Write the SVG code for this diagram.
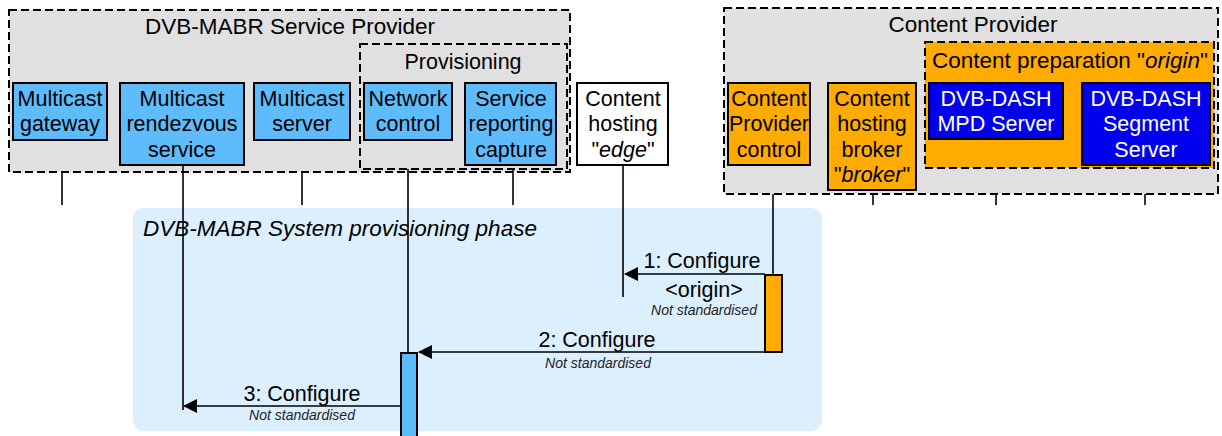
<svg xmlns="http://www.w3.org/2000/svg" width="1222" height="436" viewBox="0 0 1222 436">
<style>
text{font-family:"Liberation Sans",Arial,sans-serif;font-size:21.5px;fill:#000;text-anchor:middle}
.t{font-size:22.5px}
.w{fill:#fff}
.it{font-style:italic}
.sm{font-size:14px;font-style:italic;fill:#222}
.grp{fill:#e0e0e0;stroke:#000;stroke-width:2;stroke-dasharray:8 4}
.lb{fill:#5fbcfc;stroke:#000;stroke-width:2}
.or{fill:#ffab00;stroke:#000;stroke-width:2}
.bl{fill:#0000ee;stroke:#000;stroke-width:2}
.wh{fill:#fff;stroke:#000;stroke-width:2}
.ll{stroke:#000;stroke-width:1.6;fill:none}
.msg{stroke:#000;stroke-width:1.6;fill:none;marker-end:url(#ah)}
</style>
<defs>
<marker id="ah" viewBox="0 0 14 14" refX="13" refY="7" markerWidth="14" markerHeight="14" markerUnits="userSpaceOnUse" orient="auto">
<path d="M0,0 L14,7 L0,14 Z" fill="#000"/>
</marker>
</defs>

<g id="service-provider">
<rect class="grp" x="9" y="10" width="561" height="162"/>
<text class="t" x="290" y="34">DVB-MABR Service Provider</text>
</g>
<g id="provisioning">
<rect class="grp" x="360" y="44" width="207" height="125"/>
<text x="463" y="69">Provisioning</text>
</g>
<g id="content-provider">
<rect class="grp" x="724" y="8" width="494" height="186"/>
<text class="t" x="973" y="32">Content Provider</text>
</g>
<g id="content-preparation">
<rect x="925" y="42" width="289" height="126" fill="#ffab00" stroke="#000" stroke-width="2" stroke-dasharray="8 4"/>
<text class="t" x="1070" y="68">Content preparation "<tspan class="it">origin</tspan>"</text>
</g>

<g id="phase">
<rect x="133" y="208" width="689" height="223" rx="11" fill="#dcefff"/>
<text x="143" y="236" class="it" style="text-anchor:start;font-size:22.5px">DVB-MABR System provisioning phase</text>
</g>

<g id="lifelines">
<line class="ll" x1="62" y1="172" x2="62" y2="205"/>
<line class="ll" x1="183" y1="165" x2="183" y2="410"/>
<line class="ll" x1="302" y1="172" x2="302" y2="205"/>
<line class="ll" x1="408" y1="169" x2="408" y2="436"/>
<line class="ll" x1="513" y1="169" x2="513" y2="205"/>
<line class="ll" x1="623" y1="165" x2="623" y2="297"/>
<line class="ll" x1="773" y1="194" x2="773" y2="275"/>
<line class="ll" x1="873" y1="194" x2="873" y2="205"/>
<line class="ll" x1="996" y1="194" x2="996" y2="205"/>
<line class="ll" x1="1145" y1="194" x2="1145" y2="205"/>
</g>

<g id="multicast-gateway">
<rect class="lb" x="13" y="83" width="94" height="57"/>
<text x="60" y="106">Multicast</text>
<text x="60" y="131">gateway</text>
</g>
<g id="multicast-rendezvous">
<rect class="lb" x="120" y="83" width="124" height="82"/>
<text x="182" y="106">Multicast</text>
<text x="182" y="131">rendezvous</text>
<text x="182" y="157">service</text>
</g>
<g id="multicast-server">
<rect class="lb" x="254" y="83" width="96" height="57"/>
<text x="302" y="106">Multicast</text>
<text x="302" y="131">server</text>
</g>
<g id="network-control">
<rect class="lb" x="364" y="83" width="88" height="57"/>
<text x="408" y="106">Network</text>
<text x="408" y="131">control</text>
</g>
<g id="service-reporting">
<rect class="lb" x="465" y="83" width="91" height="82"/>
<text x="511" y="106">Service</text>
<text x="511" y="131">reporting</text>
<text x="511" y="157">capture</text>
</g>
<g id="content-hosting-edge">
<rect class="wh" x="577" y="83" width="91" height="82"/>
<text x="623" y="106">Content</text>
<text x="623" y="131">hosting</text>
<text x="623" y="157">"<tspan class="it">edge</tspan>"</text>
</g>
<g id="cp-control">
<rect class="or" x="728" y="83" width="82" height="82"/>
<text x="769" y="106">Content</text>
<text x="769" y="131">Provider</text>
<text x="769" y="157">control</text>
</g>
<g id="hosting-broker">
<rect class="or" x="828" y="83" width="88" height="107"/>
<text x="872" y="106">Content</text>
<text x="872" y="131">hosting</text>
<text x="872" y="157">broker</text>
<text x="872" y="182">"<tspan class="it">broker</tspan>"</text>
</g>
<g id="mpd-server">
<rect class="bl" x="929" y="83" width="134" height="56"/>
<text class="w" x="996" y="106">DVB-DASH</text>
<text class="w" x="996" y="131">MPD Server</text>
</g>
<g id="segment-server">
<rect class="bl" x="1082" y="83" width="128" height="82"/>
<text class="w" x="1146" y="106">DVB-DASH</text>
<text class="w" x="1146" y="131">Segment</text>
<text class="w" x="1146" y="157">Server</text>
</g>

<g id="activations">
<rect class="or" x="765" y="275" width="17" height="77" stroke-width="1.6"/>
<rect class="lb" x="401" y="353" width="16" height="85" stroke-width="1.6"/>
</g>

<g id="connectors">
<line class="msg" x1="765" y1="274" x2="625" y2="274"/>
<line class="msg" x1="765" y1="352" x2="419" y2="352"/>
<line class="msg" x1="401" y1="406" x2="184" y2="406"/>
</g>
<g id="labels">
<text x="702" y="268">1: Configure</text>
<text x="704" y="297">&lt;origin&gt;</text>
<text class="sm" x="704" y="315">Not standardised</text>
<text x="597" y="347">2: Configure</text>
<text class="sm" x="598" y="368">Not standardised</text>
<text x="302" y="401">3: Configure</text>
<text class="sm" x="302" y="420">Not standardised</text>
</g>
</svg>
